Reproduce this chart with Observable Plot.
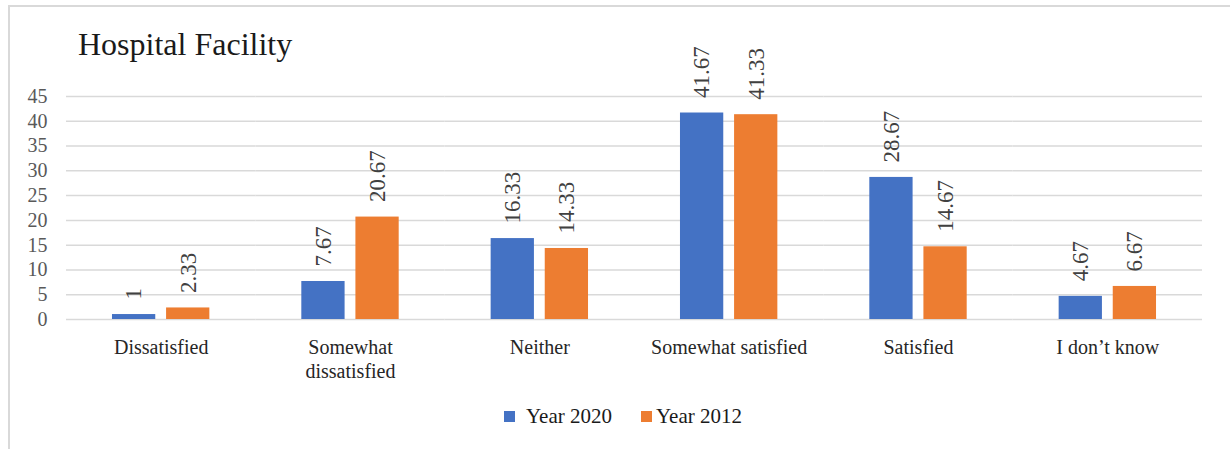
<!DOCTYPE html>
<html>
<head>
<meta charset="utf-8">
<script src="https://cdn.jsdelivr.net/npm/d3@7"></script>
<script src="https://cdn.jsdelivr.net/npm/@observablehq/plot@0.6"></script>
<style>
  html, body { margin: 0; padding: 0; background: #fff; }
  body { width: 1230px; height: 449px; position: relative; overflow: hidden;
         font-family: "Liberation Serif", "Times New Roman", serif; }
  #frame { position: absolute; left: 8px; top: 5px; width: 1300px; height: 500px;
           border-left: 2px solid #d9d9d9; border-top: 2px solid #d9d9d9; }
  #title { position: absolute; left: 78px; top: 28px; font-size: 32px; line-height: 1;
           color: #1a1a1a; white-space: nowrap; }
  #chart { position: absolute; left: 0; top: 30px; }
  #chart svg { background: transparent; overflow: visible; }
  .key { position: absolute; top: 406px; font-size: 21px; line-height: 1; color: #1a1a1a; white-space: nowrap; }
  .swatch { position: absolute; width: 11px; height: 11px; top: 411px; }
</style>
</head>
<body>
<div id="frame"></div>
<div id="title">Hospital Facility</div>
<div id="chart"></div>
<div id="legend"></div>
<script>
// Satisfaction with hospital facilities, share of respondents (%)
const categories = ["Dissatisfied", "Somewhat dissatisfied", "Neither", "Somewhat satisfied", "Satisfied", "I don’t know"];
const categoryLabels = ["Dissatisfied", "Somewhat\ndissatisfied", "Neither", "Somewhat satisfied", "Satisfied", "I don’t know"];
const series = ["Year 2020", "Year 2012"];
const year2020 = [1, 7.67, 16.33, 41.67, 28.67, 4.67];
const year2012 = [2.33, 20.67, 14.33, 41.33, 14.67, 6.67];
const yTicks = [0, 5, 10, 15, 20, 25, 30, 35, 40, 45];
const colors = ["#4472C4", "#ED7D31"];
const serif = "'Liberation Serif', 'Times New Roman', Times, serif";

const rows = categories.flatMap((c, i) => [
  {category: c, series: series[0], value: year2020[i]},
  {category: c, series: series[1], value: year2012[i]}
]);
const labelOf = new Map(categories.map((c, i) => [c, categoryLabels[i]]));

const chart = Plot.plot({
  width: 1230,
  height: 360,
  marginLeft: 66,
  marginRight: 28,
  marginTop: 66,
  marginBottom: 71,
  style: {fontFamily: serif, background: "transparent", overflow: "visible"},
  fx: {domain: categories, padding: 0, round: false, axis: null},
  x: {domain: series, paddingInner: 0.2, paddingOuter: 0.85, round: false, axis: null},
  y: {domain: [0, 45], axis: null},
  color: {domain: series, range: colors},
  marks: [
    Plot.gridY(yTicks, {stroke: "#d9d9d9", strokeOpacity: 1, strokeWidth: 1.5}),
    Plot.axisY({ticks: yTicks, tickSize: 0, tickPadding: 19, label: null, fontSize: 20,
                fontFamily: serif, fill: "#595959"}),
    Plot.axisFx({anchor: "bottom", tickSize: 0, tickPadding: 17, label: null, fontSize: 20,
                 fontFamily: serif, fill: "#262626", lineHeight: 1.2, tickFormat: (d) => labelOf.get(d)}),
    Plot.barY(rows, {fx: "category", x: "series", y: "value", fill: "series"}),
    Plot.text(rows, {fx: "category", x: "series", y: "value", text: (d) => String(d.value),
                     rotate: -90, textAnchor: "start", dy: -15, fontSize: 23,
                     fontFamily: serif, fill: "#404040"})
  ]
});
document.getElementById("chart").appendChild(chart);

// Legend below the plot
const legend = document.getElementById("legend");
const swatchX = [504, 641];
const textX = [526, 656];
series.forEach((s, i) => {
  const sw = document.createElement("div");
  sw.className = "swatch";
  sw.style.left = swatchX[i] + "px";
  sw.style.background = colors[i];
  legend.appendChild(sw);
  const t = document.createElement("div");
  t.className = "key";
  t.style.left = textX[i] + "px";
  t.textContent = s;
  legend.appendChild(t);
});
</script>
</body>
</html>
